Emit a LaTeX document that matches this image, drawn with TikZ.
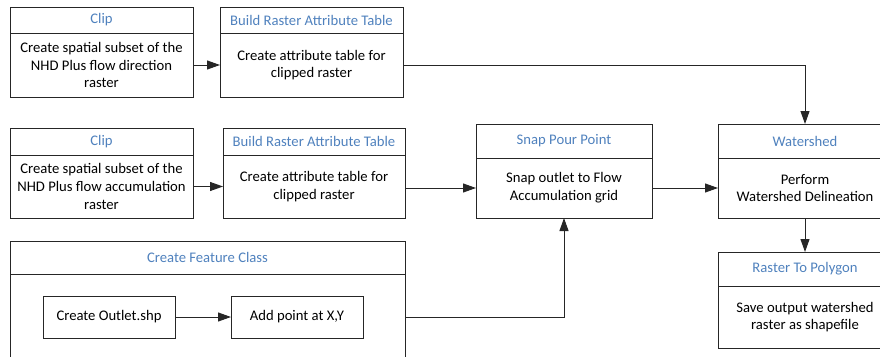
\documentclass[tikz,border=0pt]{standalone}
\usepackage{fontspec}
\setmainfont{Carlito}
\usepackage{xcolor}
\usepackage{tikz}
\usetikzlibrary{positioning, arrows.meta}
\definecolor{titreBleu}{RGB}{79,129,189}

\begin{document}
\begin{tikzpicture}[>={Triangle[length=13pt, width=9pt]}, node distance=0pt,
    every node/.style={font=\fontsize{14.67pt}{17.7pt}\selectfont, outer sep=0pt, inner sep=0pt},
    titre/.style={draw=black!85, line width=1pt, text=titreBleu, minimum height=26pt},
    corps/.style={draw=black!85, line width=1pt, align=center, minimum height=64pt},
    fleche/.style={->, line width=1pt, black!85}]

        \clip (0,0) rectangle (880pt,-356pt);

        % Ligne 1 (direction)
        \node [titre, minimum width=183pt, anchor=north west] (clipAh) at (10pt,-7pt) {Clip};
        \node [corps, minimum width=183pt, below=of clipAh] (clipA) {Create spatial subset of the\\NHD Plus flow direction\\raster};
        \node [titre, minimum width=183pt, right=27pt of clipAh] (bratAh) {Build Raster Attribute Table};
        \node [corps, minimum width=183pt, below=of bratAh] (bratA) {Create attribute table for\\clipped raster};

        % Ligne 2 (accumulation)
        \node [titre, minimum width=183pt, minimum height=27pt, anchor=north west] (clipBh) at (10pt,-128pt) {Clip};
        \node [corps, minimum width=183pt, minimum height=63pt, below=of clipBh] (clipB) {Create spatial subset of the\\NHD Plus flow accumulation\\raster};
        \node [titre, minimum width=182pt, minimum height=27pt, right=30pt of clipBh] (bratBh) {Build Raster Attribute Table};
        \node [corps, minimum width=182pt, minimum height=63pt, below=of bratBh] (bratB) {Create attribute table for\\clipped raster};

        % Snap Pour Point et Watershed
        \node [corps, minimum width=176pt, minimum height=60pt, anchor=south west] (snap) at ([xshift=71pt]bratB.south east) {Snap outlet to Flow\\Accumulation grid};
        \node [titre, minimum width=176pt, minimum height=34pt, above=of snap] (snaph) {Snap Pour Point};
        \node [corps, minimum width=174pt, minimum height=60pt, right=66pt of snap] (ws) {Perform\\Watershed Delineation};
        \node [titre, minimum width=174pt, minimum height=34pt, above=of ws] (wsh) {Watershed};
        \node [titre, minimum width=174pt, minimum height=34pt, below=34pt of ws] (rtph) {Raster To Polygon};
        \node [corps, minimum width=174pt, minimum height=62pt, below=of rtph] (rtp) {Save output watershed\\raster as shapefile};

        % Create Feature Class
        \node [titre, minimum width=395pt, minimum height=33pt, anchor=north west] (fch) at (10pt,-241pt) {Create Feature Class};
        \node [corps, minimum width=395pt, minimum height=110pt, below=of fch] (fc) {};
        \node [corps, minimum width=132pt, minimum height=42pt, anchor=north west] (outlet) at ([xshift=33pt, yshift=-22pt]fc.north west) {Create Outlet.shp};
        \node [corps, minimum width=132pt, minimum height=42pt, right=56pt of outlet] (addpt) {Add point at X,Y};

        % Flèches
        \draw [fleche] (clipA) -- (bratA);
        \draw [fleche] (clipB) -- (bratB);
        \draw [fleche] (bratA) -| (wsh);
        \draw [fleche] (bratB.east |- snap) -- (snap);
        \draw [fleche] (snap) -- (ws);
        \draw [fleche] (ws) -- (rtph);
        \draw [fleche] (outlet) -- (addpt);
        \draw [fleche] (addpt -| fc.east) -| (snap);

    \end{tikzpicture}
\end{document}
